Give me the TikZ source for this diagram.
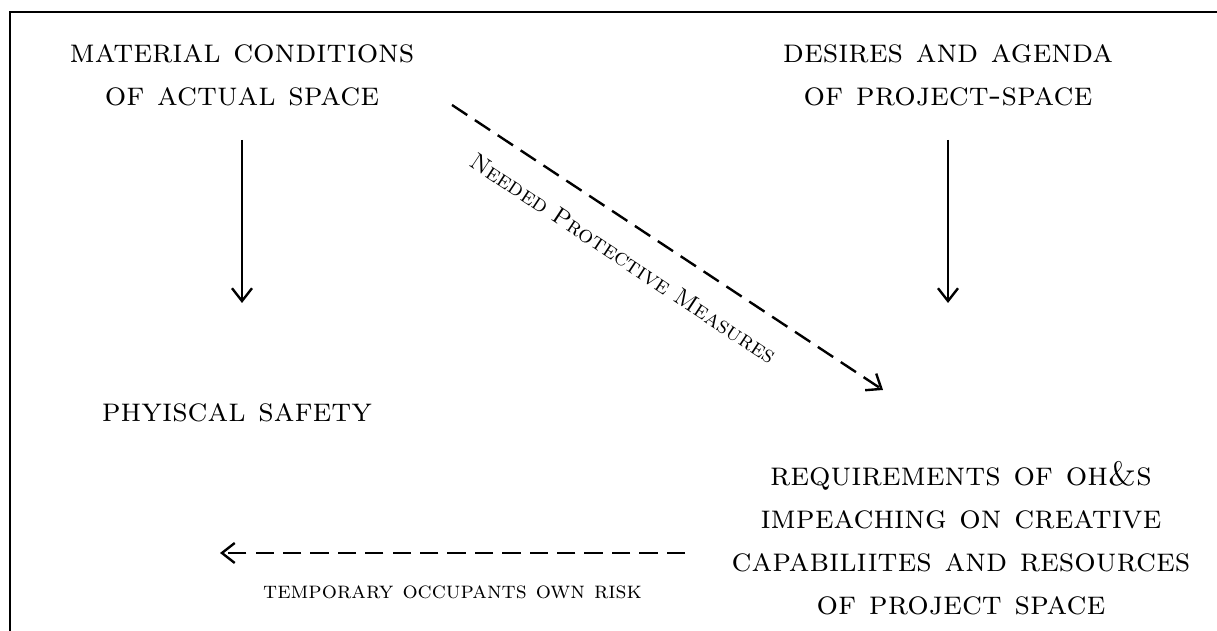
\documentclass[tikz,border=0pt]{standalone}
\usetikzlibrary{calc,positioning,arrows.meta}

\begin{document}
\begin{tikzpicture}[auto,
heading/.style = {inner sep=0pt, align=center,
                  font=\fontsize{24}{30.6}\selectfont\scshape},
remark/.style = {inner sep=0pt, font=\fontsize{17}{19}\selectfont\scshape},
line/.style = {draw, line width=1.7pt, -{Straight Barb[length=3.2mm,width=5mm]}},
dline/.style = {line, dash pattern=on 13pt off 6.5pt}]

\useasboundingbox (0,0) rectangle (30.425,15.775);
\draw [line width=1.7pt] (0.25,0) |- (30.425,15.475);

% the four corners
\node [heading] (material) at (6.05,13.9) {material conditions\\of actual space};
\node [heading] (desires) at (23.7,13.9) {desires and agenda\\of project-space};
\node [heading] (safety) at (5.925,5.45) {phyiscal safety};
\node [heading] (ohs) at (24.025,2.325)
      {requirements of oh\&s\\impeaching on creative\\capabiliites and resources\\of project space};

\coordinate (matdown) at ($(material.south)+(0,-4.925)$);
\coordinate (desdown) at ($(desires.south)+(0,-4.925)$);
\coordinate (cutstart) at (11.3,13.15);
\coordinate (cutend) at (22.075,6.025);
\coordinate (riskstart) at (17.125,1.95);
\coordinate (riskend) at (5.5,1.95);

\path [line, shorten <=0.85cm] (material.south) -- (matdown);
\path [line, shorten <=0.85cm] (desires.south) -- (desdown);

\path [dline] (cutstart) -- node [remark, sloped, swap, pos=0.44, yshift=-0.6cm]
      {Needed Protective Measures} (cutend);
\path [dline] (riskstart) -- node [remark, pos=0.5, yshift=-0.8cm]
      {temporary occupants own risk} (riskend);
\end{tikzpicture}
\end{document}
